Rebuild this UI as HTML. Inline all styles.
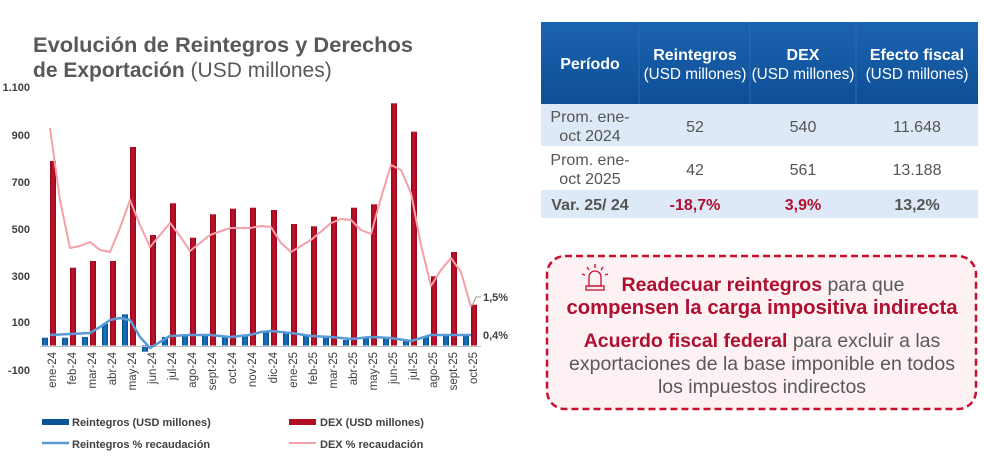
<!DOCTYPE html>
<html><head><meta charset="utf-8"><style>
body{margin:0;background:#fff;width:984px;height:451px;overflow:hidden;font-family:"Liberation Sans",Arial,sans-serif}
</style></head><body>
<svg width="984" height="451" viewBox="0 0 984 451" xmlns="http://www.w3.org/2000/svg" font-family="Liberation Sans, Arial, sans-serif">
<defs>
<linearGradient id="hg" x1="0" y1="0" x2="0" y2="1"><stop offset="0" stop-color="#1c63b0"/><stop offset="1" stop-color="#0d4f96"/></linearGradient>
<linearGradient id="rg" x1="0" y1="0" x2="1" y2="0"><stop offset="0" stop-color="#8e0a1c"/><stop offset="0.5" stop-color="#c8102e"/><stop offset="1" stop-color="#8e0a1c"/></linearGradient>
<linearGradient id="bg" x1="0" y1="0" x2="1" y2="0"><stop offset="0" stop-color="#0a4d8c"/><stop offset="0.5" stop-color="#1a74c4"/><stop offset="1" stop-color="#0a4d8c"/></linearGradient>
</defs>
<text x="33" y="52" font-size="21" font-weight="bold" fill="#595959" textLength="380" lengthAdjust="spacingAndGlyphs">Evolución de Reintegros y Derechos</text>
<text x="33" y="77" font-size="21" fill="#595959"><tspan font-weight="bold">de Exportación</tspan> (USD millones)</text>
<g font-size="11" font-weight="bold" fill="#404040" text-anchor="end">
<text x="30" y="91">1.100</text><text x="30" y="139">900</text><text x="30" y="186">700</text><text x="30" y="233">500</text><text x="30" y="280">300</text><text x="30" y="326">100</text><text x="30" y="374">-100</text>
</g>
<g fill="url(#rg)">
<rect x="50" y="161" width="6" height="184.5"/><rect x="70" y="267.7" width="6" height="77.8"/><rect x="90" y="261" width="6" height="84.5"/><rect x="110" y="261" width="6" height="84.5"/><rect x="130" y="147" width="6" height="198.5"/><rect x="150" y="235" width="6" height="110.5"/><rect x="170" y="203.3" width="6" height="142.2"/><rect x="190" y="237.7" width="6" height="107.8"/><rect x="210" y="214.3" width="6" height="131.2"/><rect x="230" y="208.7" width="6" height="136.8"/><rect x="250" y="207.7" width="6" height="137.8"/><rect x="271" y="210" width="6" height="135.5"/><rect x="291" y="224" width="6" height="121.5"/><rect x="311" y="226.3" width="6" height="119.2"/><rect x="331" y="216.7" width="6" height="128.8"/><rect x="351" y="207.7" width="6" height="137.8"/><rect x="371" y="204.3" width="6" height="141.2"/><rect x="391" y="103.3" width="6" height="242.2"/><rect x="411" y="131.7" width="6" height="213.8"/><rect x="431" y="276.3" width="6" height="69.2"/><rect x="451" y="252" width="6" height="93.5"/><rect x="471" y="304.7" width="6" height="40.8"/>
</g>
<g fill="url(#bg)">
<rect x="42" y="337.7" width="6" height="7.8"/><rect x="62" y="337.7" width="6" height="7.8"/><rect x="82" y="337" width="6" height="8.5"/><rect x="102" y="323.7" width="6" height="21.8"/><rect x="122" y="314.3" width="6" height="31.2"/><rect x="142" y="345.5" width="6" height="6.2"/><rect x="162" y="337" width="6" height="8.5"/><rect x="182" y="336.3" width="6" height="9.2"/><rect x="202" y="335.5" width="6" height="10"/><rect x="222" y="337.3" width="6" height="8.2"/><rect x="242" y="336.3" width="6" height="9.2"/><rect x="263" y="332.3" width="6" height="13.2"/><rect x="283" y="333" width="6" height="12.5"/><rect x="303" y="335.5" width="6" height="10"/><rect x="323" y="337.3" width="6" height="8.2"/><rect x="343" y="340" width="6" height="5.5"/><rect x="363" y="338.5" width="6" height="7"/><rect x="383" y="338.5" width="6" height="7"/><rect x="403" y="340.5" width="6" height="5"/><rect x="423" y="337" width="6" height="8.5"/><rect x="443" y="335.5" width="6" height="10"/><rect x="463" y="335.5" width="6" height="10"/>
</g>
<line x1="40" y1="346.5" x2="481" y2="346.5" stroke="#bfbfbf" stroke-width="1"/>
<polyline fill="none" stroke="#f4a0a8" stroke-width="2" stroke-linejoin="round" points="50,128 60,200 70,248 80,246 90,242 100,250 110,252 120,228 130,200 140,225 150,247 160,235 170,223 180,236 190,251 210,235 230,228 250,228 261,226 271,227 281,243 291,252 311,240 331,223 341,219 351,220 361,230 371,234 381,198 391,165 401,170 411,193 421,245 431,286 441,270 451,258 461,272 471,307"/>
<polyline fill="none" stroke="#5b9bd5" stroke-width="2.5" stroke-linejoin="round" points="50,335 70,334 90,333 100,327 110,320 120,318 130,320 140,337 150,348 160,342 170,336 190,335 210,335 230,337 250,335 261,332 271,331 291,333 311,336 331,337 351,339 371,337 391,338 411,341 421,338 431,335 451,335 471,335"/>
<polyline fill="none" stroke="#999" stroke-width="1" points="472,306 476,297 481,297"/>
<g font-size="11" font-weight="bold" fill="#404040">
<text x="483" y="301">1,5%</text><text x="483" y="339">0,4%</text>
</g>
<g font-size="11.5" fill="#404040" text-anchor="end">
<text transform="translate(56,352) rotate(-90)">ene-24</text><text transform="translate(76,352) rotate(-90)">feb-24</text><text transform="translate(96,352) rotate(-90)">mar-24</text><text transform="translate(116,352) rotate(-90)">abr-24</text><text transform="translate(136,352) rotate(-90)">may-24</text><text transform="translate(156,352) rotate(-90)">jun-24</text><text transform="translate(176,352) rotate(-90)">jul-24</text><text transform="translate(196,352) rotate(-90)">ago-24</text><text transform="translate(216,352) rotate(-90)">sept-24</text><text transform="translate(236,352) rotate(-90)">oct-24</text><text transform="translate(256,352) rotate(-90)">nov-24</text><text transform="translate(277,352) rotate(-90)">dic-24</text><text transform="translate(297,352) rotate(-90)">ene-25</text><text transform="translate(317,352) rotate(-90)">feb-25</text><text transform="translate(337,352) rotate(-90)">mar-25</text><text transform="translate(357,352) rotate(-90)">abr-25</text><text transform="translate(377,352) rotate(-90)">may-25</text><text transform="translate(397,352) rotate(-90)">jun-25</text><text transform="translate(417,352) rotate(-90)">jul-25</text><text transform="translate(437,352) rotate(-90)">ago-25</text><text transform="translate(457,352) rotate(-90)">sept-25</text><text transform="translate(477,352) rotate(-90)">oct-25</text>
</g>
<rect x="42" y="419" width="27" height="6" fill="#0a5496"/>
<rect x="289" y="419" width="27" height="6" fill="#b00c22"/>
<line x1="42" y1="443" x2="69" y2="443" stroke="#5b9bd5" stroke-width="2.5"/>
<line x1="289" y1="443" x2="316" y2="443" stroke="#f4a0a8" stroke-width="2"/>
<g font-size="11" font-weight="bold" fill="#404040">
<text x="72" y="426">Reintegros (USD millones)</text><text x="320" y="426">DEX (USD millones)</text>
<text x="72" y="448">Reintegros % recaudación</text><text x="320" y="448">DEX % recaudación</text>
</g>
<rect x="541" y="22" width="437" height="82" fill="url(#hg)"/>
<g stroke="#2a6cb3" stroke-width="1"><line x1="639" y1="22" x2="639" y2="104"/><line x1="750" y1="22" x2="750" y2="104"/><line x1="856" y1="22" x2="856" y2="104"/></g>
<rect x="541" y="104" width="437" height="42" fill="#dde9f6"/>
<rect x="541" y="190" width="437" height="28" fill="#dde9f6"/>
<g fill="#fff" text-anchor="middle">
<text x="590" y="69" font-size="16" font-weight="bold">Período</text>
<text x="695" y="60" font-size="16" font-weight="bold">Reintegros</text><text x="695" y="79" font-size="15.3">(USD millones)</text>
<text x="803" y="60" font-size="16" font-weight="bold">DEX</text><text x="803" y="79" font-size="15.3">(USD millones)</text>
<text x="917" y="60" font-size="16" font-weight="bold">Efecto fiscal</text><text x="917" y="79" font-size="15.3">(USD millones)</text>
</g>
<g fill="#555" font-size="16" text-anchor="middle">
<text x="590" y="122">Prom. ene-</text><text x="590" y="141">oct 2024</text>
<text x="695" y="132">52</text><text x="803" y="132">540</text><text x="917" y="132">11.648</text>
<text x="590" y="165">Prom. ene-</text><text x="590" y="184">oct 2025</text>
<text x="695" y="175">42</text><text x="803" y="175">561</text><text x="917" y="175">13.188</text>
<text x="590" y="210" font-weight="bold">Var. 25/ 24</text>
<text x="695" y="210" font-weight="bold" fill="#b01030">-18,7%</text><text x="803" y="210" font-weight="bold" fill="#b01030">3,9%</text><text x="917" y="210" font-weight="bold">13,2%</text>
</g>
<rect x="547" y="256" width="429" height="153" rx="18" fill="#fdf1f3" stroke="#c8102e" stroke-width="2.5" stroke-dasharray="7,4"/>
<g transform="translate(584,266)" stroke="#c8102e" stroke-width="1.3" fill="none">
<path d="M5,20 L5,11 A6,6 0 0 1 17,11 L17,20 Z"/><rect x="2" y="20" width="18" height="4"/>
<line x1="11" y1="-2" x2="11" y2="2"/><line x1="3" y1="1" x2="5" y2="4"/><line x1="19" y1="1" x2="17" y2="4"/><line x1="-2" y1="8" x2="1" y2="9"/><line x1="24" y1="8" x2="21" y2="9"/>
</g>
<g font-size="19.5" text-anchor="middle" fill="#595959">
<text x="763" y="291"><tspan fill="#b01030" font-weight="bold">Readecuar reintegros</tspan> para que</text>
<text x="762" y="314" fill="#b01030" font-weight="bold" font-size="20.3">compensen la carga impositiva indirecta</text>
<text x="762" y="347"><tspan fill="#b01030" font-weight="bold">Acuerdo fiscal federal</tspan> para excluir a las</text>
<text x="762" y="370">exportaciones de la base imponible en todos</text>
<text x="762" y="393">los impuestos indirectos</text>
</g>
</svg>
</body></html>
